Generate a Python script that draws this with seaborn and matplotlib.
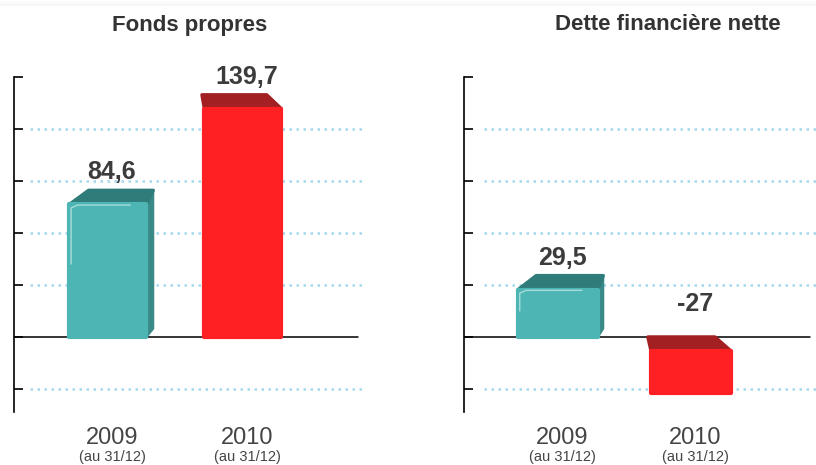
import numpy as np
import pandas as pd
import matplotlib
matplotlib.use("Agg")
import matplotlib.pyplot as plt
from matplotlib.patches import Polygon
import seaborn as sns

# -------------------------------
# Data
# -------------------------------
annees = ["2009", "2010"]
sous_titre = "(au 31/12)"
fonds_propres = [84.6, 139.7]
dette_nette = [29.5, -27]
titres = ["Fonds propres", "Dette financière nette"]

TEAL = "#4db5b3"
TEAL_TOP = "#2f7c7a"
TEAL_SIDE = "#3a8b88"
RED = "#ff2023"
RED_TOP = "#a21f22"
TEXT = "#3c3c3c"
GRID = "#a3d8ec"

sns.set_style("white")
plt.rcParams["font.family"] = ["Liberation Sans", "DejaVu Sans"]


def draw_panel(ax, values, ticks, ylim, xlim, grid_xmin, zero_xmax, vx, width):
    df = pd.DataFrame({"annee": annees, "valeur": values})
    sns.barplot(data=df, x="annee", y="valeur", hue="annee",
                palette=[TEAL, RED], legend=False, width=width,
                ax=ax, zorder=3, saturation=1)

    ax.set_ylim(*ylim)
    ax.set_xlim(*xlim)

    # depth of the fake 3D top face, ~14 px in data units
    px = 335.0
    d = 14 * (ylim[1] - ylim[0]) / px
    f = 0.16

    tops = [TEAL_TOP, RED_TOP]
    fronts = [TEAL, RED]
    for i, (patch, v) in enumerate(zip(ax.patches, values)):
        x0 = patch.get_x()
        w = patch.get_width()
        x1 = x0 + w
        if v >= 0:
            bot, top = 0, v - d
        else:
            bot, top = v, -d
        patch.set_y(bot)
        patch.set_height(top - bot)
        patch.set_edgecolor(fronts[i])
        patch.set_linewidth(3)
        patch.set_joinstyle("round")

        # back edge of the top face, pulled toward a vanishing point
        bx0 = x0 + f * (vx - x0)
        bx1 = x1 + f * (vx - x1)
        ax.add_patch(Polygon([(x0, top), (x1, top), (bx1, top + d), (bx0, top + d)],
                             closed=True, facecolor=tops[i], edgecolor=tops[i],
                             lw=2.5, joinstyle="round", zorder=2.9))
        if bx1 > x1:
            ax.add_patch(Polygon([(x1, top), (bx1, top + d), (bx1, bot + d * 0.6), (x1, bot)],
                                 closed=True, facecolor=TEAL_SIDE, edgecolor=TEAL_SIDE,
                                 lw=1.5, joinstyle="round", zorder=2.8))
        if i == 0:
            # light highlight along the top-left edge of the front face
            ax.plot([x0 + 0.012, x0 + 0.012, x0 + 0.06, x1 - 0.12],
                    [bot + (top - bot) * 0.55, top - d * 0.25, top - d * 0.05, top - d * 0.05],
                    color="#a6dcd9", lw=1.0, zorder=4, solid_joinstyle="round")

        label = f"{v:g}".replace(".", ",")
        y_lab = v if v >= 0 else 0
        ax.annotate(label, xy=(i + 0.03, y_lab), xytext=(0, 13 if v >= 0 else 24),
                    textcoords="offset points", ha="center", va="center",
                    fontsize=18, fontweight="bold", color=TEXT)

    for t in ticks:
        if t != 0 and t != ticks[-1]:
            ax.axhline(t, xmin=grid_xmin, xmax=1, color=GRID, lw=1.8,
                       ls=(0, (1, 1.8)), zorder=0.5)
    ax.axhline(0, xmin=0, xmax=zero_xmax, color="black", lw=1.1, zorder=1)

    ax.set_yticks(ticks)
    ax.tick_params(axis="y", direction="in", length=6.5, width=1.2,
                   labelleft=False, left=True, color="black")
    ax.set_xticks([])
    ax.set_xlabel("")
    ax.set_ylabel("")
    for s in ["top", "right", "bottom"]:
        ax.spines[s].set_visible(False)
    ax.spines["left"].set_color("black")
    ax.spines["left"].set_linewidth(1.2)

    for i, an in enumerate(annees):
        ax.text(i + 0.03, -0.078, an, transform=ax.get_xaxis_transform(),
                ha="center", va="center", fontsize=17, color="#454545")
        ax.text(i + 0.03, -0.134, sous_titre, transform=ax.get_xaxis_transform(),
                ha="center", va="center", fontsize=10.5, color="#454545")


fig = plt.figure(figsize=(8.16, 4.65), dpi=100)

# faint grey band along the top edge
band = np.linspace(0.965, 1.0, 6)[::-1]
band_img = np.repeat(band[:, None], 816, axis=1)
fig.figimage(np.dstack([band_img] * 3), xo=0, yo=465 - 6, zorder=0)

ax1 = fig.add_axes([14 / 816, 53 / 465, 351 / 816, 335 / 465])
ax2 = fig.add_axes([464 / 816, 53 / 465, 352 / 816, 335 / 465])

draw_panel(ax1, fonds_propres, list(range(-30, 151, 30)), (-30 * 75 / 52, 150),
           (-0.696, 1.904), 16 / 351, 0.98, 0.6, 0.57)
draw_panel(ax2, dette_nette, list(range(-25, 126, 25)), (-25 * 75 / 52, 125),
           (-0.707, 1.94), 20 / 352, 0.983, 0.55, 0.6)

fig.text(190 / 816, 1 - 25 / 465, titres[0], ha="center", va="center",
         fontsize=16, fontweight="bold", color="#333333")
fig.text(668 / 816, 1 - 25 / 465, titres[1], ha="center", va="center",
         fontsize=16, fontweight="bold", color="#333333")

fig.savefig("out.png", dpi=100)
